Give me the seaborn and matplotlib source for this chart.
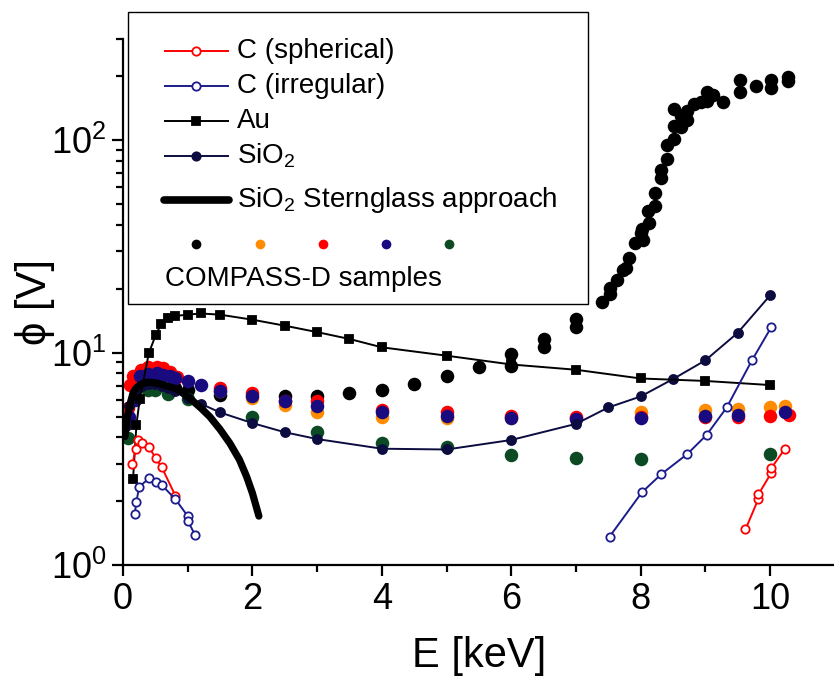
import matplotlib
matplotlib.use("Agg")
import matplotlib.pyplot as plt
import seaborn as sns
import numpy as np
import pandas as pd
from matplotlib.lines import Line2D
from matplotlib.patches import Rectangle
from matplotlib.ticker import LogLocator, FixedLocator, NullFormatter

# ---------------- data ----------------
c_sph_low_x = [0.145, 0.196, 0.232, 0.30, 0.40, 0.505, 0.60, 0.81]
c_sph_low_y = [2.99, 3.51, 3.89, 3.75, 3.59, 3.19, 2.88, 2.12]
c_sph_high_x = [9.62, 9.82, 9.82, 10.02, 10.02, 10.23]
c_sph_high_y = [1.47, 2.05, 2.15, 2.72, 2.86, 3.53]

c_irr_low_x = [0.18, 0.207, 0.248, 0.40, 0.505, 0.60, 0.81, 1.0, 1.0, 1.11]
c_irr_low_y = [1.74, 1.98, 2.33, 2.56, 2.47, 2.38, 2.04, 1.70, 1.62, 1.39]
c_irr_high_x = [7.52, 8.02, 8.32, 8.72, 9.02, 9.33, 9.72, 10.02]
c_irr_high_y = [1.36, 2.20, 2.68, 3.33, 4.10, 5.52, 9.2, 13.2]

au_x = [0.155, 0.207, 0.258, 0.40, 0.505, 0.593, 0.70, 0.81, 1.0, 1.2, 1.5, 2.0,
        2.5, 3.0, 3.5, 4.0, 5.0, 6.0, 7.0, 8.0, 9.0, 10.0]
au_y = [2.54, 4.56, 6.05, 9.97, 12.1, 13.7, 14.6, 14.9, 15.1, 15.3, 15.1, 14.3,
        13.4, 12.5, 11.6, 10.6, 9.68, 8.8, 8.31, 7.56, 7.36, 7.04]

sio2_x = [0.05, 0.1, 0.2, 0.3, 0.4, 0.5, 0.6, 0.7, 0.8, 1.0, 1.2, 1.5, 2.0, 2.5,
          3.0, 4.0, 5.0, 6.0, 7.0, 7.5, 8.0, 8.5, 9.0, 9.5, 10.0]
sio2_y = [4.5, 5.6, 6.6, 7.0, 7.1, 7.1, 7.0, 6.8, 6.6, 6.1, 5.75, 5.23, 4.66, 4.22,
          3.92, 3.53, 3.50, 3.88, 4.62, 5.52, 6.22, 7.51, 9.2, 12.4, 18.6]

stern_x = [0.03, 0.05, 0.08, 0.12, 0.155, 0.2, 0.26, 0.36, 0.45, 0.55, 0.67, 0.83,
           1.03, 1.2, 1.34, 1.5, 1.65, 1.8, 1.91, 2.0, 2.1]
stern_y = [4.03, 4.6, 5.19, 5.9, 6.46, 6.8, 7.06, 7.25, 7.25, 7.15, 6.99, 6.75,
           6.11, 5.5, 5.0, 4.35, 3.75, 3.13, 2.61, 2.18, 1.70]

black_x = [0.3, 0.5, 0.8, 1.0, 1.5, 2.5, 3.0, 3.5, 4.0, 4.5, 5.0, 5.5, 6.0, 6.0,
           6.5, 6.5, 7.0, 7.0, 7.41, 7.52, 7.52, 7.63, 7.72, 7.77, 7.82, 7.92,
           8.01, 8.04, 8.02, 8.13, 8.11, 8.22, 8.22, 8.32, 8.32, 8.41, 8.41, 8.52,
           8.52, 8.63, 8.52, 8.62, 8.72, 8.72, 8.83, 8.93, 9.02, 9.02, 9.12, 9.27,
           9.53, 9.53, 9.78, 10.02, 10.02, 10.28, 10.28]
black_y = [7.0, 7.1, 6.84, 6.69, 6.34, 6.22, 6.27, 6.46, 6.69, 7.12, 7.73, 8.56,
           8.68, 9.89, 10.6, 11.6, 13.2, 14.4, 17.4, 18.8, 20.2, 22.1, 24.6, 25.1,
           28.0, 32.9, 36.7, 34.1, 38.3, 40.9, 46.4, 49.3, 56.7, 66.7, 72.2, 81.4,
           94.7, 102, 117, 115, 140, 130, 125, 137, 148, 152, 153, 168, 163, 152,
           168, 192, 180, 192, 177, 198, 190]

orange_x = [0.2, 0.4, 0.6, 1.5, 2.0, 2.5, 3.0, 4.0, 5.0, 6.0, 7.0, 8.0, 9.0, 9.5,
            10.0, 10.23]
orange_y = [7.4, 8.2, 8.1, 6.6, 6.1, 5.69, 5.28, 4.97, 4.95, 4.9, 4.9, 5.28, 5.38,
            5.43, 5.55, 5.58]

red_x = [0.08, 0.11, 0.155, 0.28, 0.39, 0.52, 0.62, 0.72, 0.83, 1.5, 2.0, 2.5,
         3.0, 4.0, 5.0, 6.0, 7.0, 8.0, 9.0, 9.5, 10.0, 10.29]
red_y = [5.5, 7.06, 7.73, 8.31, 8.53, 8.6, 8.45, 8.15, 7.67, 6.81, 6.45, 5.95,
         5.89, 5.38, 5.23, 5.05, 5.0, 4.97, 4.97, 4.97, 5.05, 5.07]

navy_x = [0.1, 0.18, 0.26, 0.39, 0.52, 0.62, 0.72, 0.81, 1.0, 1.2, 1.5, 2.0, 2.5,
          3.0, 4.0, 5.0, 6.0, 7.0, 8.0, 9.0, 9.5, 10.23]
navy_y = [5.0, 6.0, 7.73, 7.96, 8.0, 7.86, 7.73, 7.6, 7.32, 7.06, 6.57, 6.22, 5.89,
          5.58, 5.23, 5.05, 4.92, 4.87, 4.92, 5.05, 5.10, 5.23]

green_x = [0.08, 0.39, 0.49, 0.70, 1.0, 2.0, 3.0, 4.0, 5.0, 6.0, 7.0, 8.0, 10.0]
green_y = [3.95, 6.69, 6.69, 6.41, 6.05, 4.97, 4.25, 3.77, 3.6, 3.28, 3.19, 3.16, 3.33]

x_ticks = [0, 2, 4, 6, 8, 10]
legend_labels = ["C (spherical)", "C (irregular)", "Au", "SiO$_2$",
                 "SiO$_2$ Sternglass approach"]
samples_label = "COMPASS-D samples"

# ---------------- style ----------------
sns.set_style("ticks")
plt.rcParams['font.family'] = ['Liberation Sans', 'DejaVu Sans']
plt.rcParams['mathtext.fontset'] = 'custom'
plt.rcParams['mathtext.rm'] = 'Liberation Sans'
plt.rcParams['mathtext.it'] = 'Liberation Sans:italic'
plt.rcParams['mathtext.bf'] = 'Liberation Sans:bold'
plt.rcParams['text.color'] = 'black'
plt.rcParams['axes.labelcolor'] = 'black'
plt.rcParams['xtick.color'] = 'black'
plt.rcParams['ytick.color'] = 'black'
plt.rcParams['axes.edgecolor'] = 'black'

RED = '#ff0000'
ORANGE = '#ff8c00'
NAVY = '#1a0a80'
DNAVY = '#0c0c40'
IRR = '#1c1c8c'
GREEN = '#0b4a22'

fig = plt.figure(figsize=(8.34, 6.81), dpi=100)
ax = fig.add_axes([0.1475, 0.1703, 0.8534, 0.7724])

# sample dots
dot_s = 95
for xs, ys, col in [(black_x, black_y, 'black'), (orange_x, orange_y, ORANGE),
                    (red_x, red_y, RED), (navy_x, navy_y, NAVY),
                    (green_x, green_y, GREEN)]:
    sns.scatterplot(x=xs, y=ys, color=col, s=dot_s, linewidth=0, ax=ax, zorder=2)

def line(xs, ys, col, marker, mfc, ms, lw=1.4, z=3):
    sns.lineplot(x=xs, y=ys, color=col, marker=marker, markersize=ms,
                 markerfacecolor=mfc, markeredgecolor=col, markeredgewidth=1.3,
                 linewidth=lw, estimator=None, sort=False, ax=ax, zorder=z)

line(sio2_x, sio2_y, DNAVY, 'o', DNAVY, 6.5)
line(au_x, au_y, 'black', 's', 'black', 6.0)
line(stern_x, stern_y, 'black', None, 'black', 0, lw=5.2, z=4)
line(c_sph_low_x, c_sph_low_y, RED, 'o', 'white', 6.0, z=5)
line(c_sph_high_x, c_sph_high_y, RED, 'o', 'white', 6.0, z=5)
line(c_irr_low_x, c_irr_low_y, IRR, 'o', 'white', 6.0, z=5)
line(c_irr_high_x, c_irr_high_y, IRR, 'o', 'white', 6.0, z=5)
for l in ax.lines:
    if l.get_linewidth() > 4:
        l.set_solid_capstyle('round')

ax.set_yscale('log')
ax.set_xlim(0, 11)
ax.set_ylim(1, 300)
ax.xaxis.set_major_locator(FixedLocator(x_ticks))
ax.xaxis.set_minor_locator(FixedLocator([1, 3, 5, 7, 9]))
ax.yaxis.set_major_locator(LogLocator(base=10, numticks=10))
ax.yaxis.set_minor_locator(LogLocator(base=10, subs=np.arange(2, 10), numticks=20))
ax.yaxis.set_minor_formatter(NullFormatter())

for s in ['top', 'right']:
    ax.spines[s].set_visible(False)
for s in ['left', 'bottom']:
    ax.spines[s].set_linewidth(1.6)
ax.tick_params(which='major', length=8, width=1.6, labelsize=26, direction='out', pad=4)
ax.tick_params(which='minor', length=5, width=1.6, direction='out')
for lab in ax.get_xticklabels() + ax.get_yticklabels():
    lab.set_fontfamily(['Liberation Sans Narrow', 'Liberation Sans'])

ax.set_xlabel("E [keV]", fontsize=30, labelpad=14)
ax.set_ylabel("ϕ [V]", fontsize=30,
              fontfamily=['Liberation Sans', 'DejaVu Sans'])
ax.yaxis.set_label_coords(-0.095, 0.50)

# ---------------- legend (drawn in pixel space) ----------------
lax = fig.add_axes([0, 0, 1, 1], zorder=10)
lax.set_xlim(0, 834)
lax.set_ylim(681, 0)
lax.axis('off')
lax.add_patch(Rectangle((128, 12), 460, 292, facecolor='white', edgecolor='black', lw=1.0))
rows = [50.7, 86, 121, 155.7, 200]
styles = [(RED, 'o', 'white', 1.4), (IRR, 'o', 'white', 1.4), ('black', 's', 'black', 1.4),
          (DNAVY, 'o', DNAVY, 1.4), ('black', None, 'black', 5.5)]
for yy, lab, (col, mk, mfc, lw) in zip(rows, legend_labels, styles):
    ln = Line2D([164, 229], [yy, yy], color=col, lw=lw, solid_capstyle='round' if lw > 4 else 'butt')
    lax.add_line(ln)
    if mk:
        lax.add_line(Line2D([196.5], [yy], marker=mk, color=col, markerfacecolor=mfc,
                            markeredgecolor=col, markersize=6.0, markeredgewidth=1.3))
    lax.text(237, yy, lab, fontsize=20, va='center', ha='left')
for xx, col in zip([196, 260, 323, 386, 449], ['black', ORANGE, RED, NAVY, GREEN]):
    lax.add_line(Line2D([xx], [244.3], marker='o', color=col, markersize=7.0, markeredgewidth=0))
lax.text(165, 279.3, samples_label, fontsize=20, va='center', ha='left')

fig.savefig("out.png", dpi=100)
